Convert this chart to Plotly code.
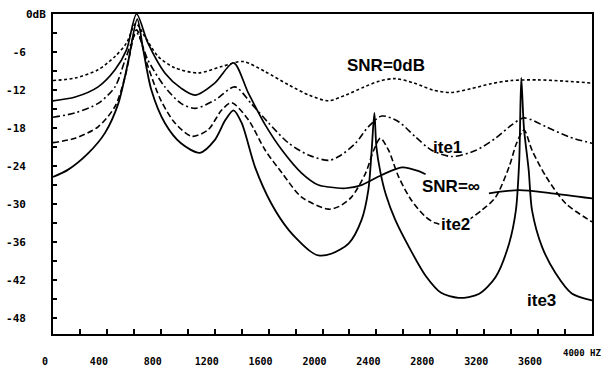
import plotly.graph_objects as go

# ---------------- data (frequency in Hz, level in dB) ----------------
snr0_hz = [0, 165, 335, 460, 545, 615, 680, 780, 905, 1080, 1250, 1410, 1575, 1750,
           1900, 2045, 2170, 2300, 2420, 2540, 2680, 2820, 2950, 3100, 3250, 3400,
           3600, 3800, 4000]
snr0_db = [-10.5, -10.1, -8.8, -6.7, -4.6, -1.5, -3.5, -6.7, -8.5, -9.3, -8.3, -7.5, -9.1,
           -11.2, -12.8, -13.7, -12.8, -11.6, -10.6, -10.2, -10.9, -12.0, -12.4, -11.8,
           -11.0, -10.5, -10.4, -10.6, -10.9]

clean_hz = [0, 165, 335, 460, 545, 620, 705, 830, 950, 1055, 1200, 1340, 1450, 1575,
            1700, 1845, 1970, 2045, 2170, 2290, 2440, 2590, 2715, 2765, 2900, 3235,
            3460, 3700, 4000]
clean_db = [-13.7, -13.1, -11.5, -8.8, -5.7, 0.0, -4.6, -9.3, -11.7, -12.8, -10.9, -7.7,
            -12.5, -17.5, -21.5, -25.1, -27.0, -27.3, -27.5, -27.0, -25.4, -24.2, -24.8,
            -25.3, None, -28.3, -27.8, -28.3, -29.1]

ite1_hz = [0, 165, 335, 460, 535, 620, 705, 830, 950, 1055, 1200, 1350, 1470, 1600,
           1750, 1900, 2045, 2120, 2245, 2340, 2440, 2565, 2690, 2810, 2960, 3140,
           3285, 3405, 3495, 3660, 3830, 4000]
ite1_db = [-16.3, -15.6, -14.1, -11.5, -7.3, -3.0, -7.3, -11.5, -14.1, -14.9, -13.6,
           -11.5, -14.1, -17.2, -20.4, -22.3, -23.1, -22.5, -20.4, -17.8, -16.1, -17.0,
           -19.4, -21.5, -22.5, -21.5, -19.6, -17.5, -16.4, -17.8, -19.4, -20.4]

ite2_hz = [0, 165, 335, 460, 535, 620, 705, 800, 905, 1030, 1150, 1250, 1325, 1450,
           1575, 1700, 1845, 2045, 2120, 2215, 2320, 2380, 2430, 2490, 2565, 2660,
           2765, 2840, 3000, 3180, 3285, 3385, 3440, 3495, 3555, 3660, 3805, 4000]
ite2_db = [-20.3, -19.6, -17.8, -14.6, -9.9, -2.5, -8.3, -13.6, -17.2, -19.3, -18.3,
           -15.2, -14.0, -16.7, -21.5, -25.1, -28.9, -30.8, -30.4, -28.9, -25.1, -21.5,
           -19.6, -21.5, -25.7, -29.4, -32.0, -33.0, -33.4, -31.0, -28.9, -24.1, -20.4,
           -18.3, -21.5, -25.7, -29.9, -32.8]

ite3_hz = [0, 110, 260, 385, 485, 560, 625, 670, 730, 830, 950, 1090, 1200, 1280, 1340,
           1400, 1500, 1620, 1750, 1900, 1970, 2070, 2195, 2290, 2340, 2365, 2385, 2400,
           2430, 2470, 2540, 2660, 2765, 2880, 3010, 3160, 3285, 3385, 3435, 3460, 3475,
           3495, 3530, 3555, 3630, 3730, 3850, 4000]
ite3_db = [-25.7, -24.6, -22.0, -18.8, -14.1, -7.3, -0.8, -5.7, -12.0, -17.2, -20.4,
           -21.9, -19.9, -16.7, -15.2, -17.2, -24.2, -29.9, -34.1, -37.3, -38.1, -37.8,
           -36.2, -32.5, -27.8, -21.5, -15.6, -21.0, -25.0, -28.5, -32.5, -37.5, -41.3,
           -44.0, -44.8, -44.2, -41.5, -36.2, -31.0, -23.1, -10.1, -18.0, -24.6, -31.0,
           -36.8, -40.9, -44.1, -45.2]

x_tick_vals = [0, 200, 400, 600, 800, 1000, 1200, 1400, 1600, 1800, 2000, 2200, 2400,
               2600, 2800, 3000, 3200, 3400, 3600, 3800, 4000]
x_tick_text = ["0", "", "400", "", "800", "", "1200", "", "1600", "", "2000", "", "2400",
               "", "2800", "", "3200", "", "3600", "", ""]
y_tick_vals = [0, -3, -6, -9, -12, -15, -18, -21, -24, -27, -30, -33, -36, -39, -42,
               -45, -48]
y_tick_text = ["0dB", "", "-6", "", "-12", "", "-18", "", "-24", "", "-30", "", "-36",
               "", "-42", "", "-48"]

labels = ["SNR=0dB", "ite1", "SNR=\u221e", "ite2", "ite3"]
label_hz = [2468, 2929, 2952, 2989, 3628]
label_db = [-8.06, -21.0, -27.3, -33.2, -45.2]

# numeric y labels sit further left than the "0dB" label
pad = "\u00a0" * 3
y_tick_shown = [t if (t == "" or "dB" in t) else t + pad for t in y_tick_text]

# ---------------- figure ----------------
fig = go.Figure()
series = [
    (snr0_hz, snr0_db, "3px,2.5px", 1.6),
    (clean_hz, clean_db, "solid", 1.7),
    (ite1_hz, ite1_db, "7px,3px,2px,3px", 1.6),
    (ite2_hz, ite2_db, "6px,3px", 1.6),
    (ite3_hz, ite3_db, "solid", 1.8),
]
for hz, db, dash, w in series:
    fig.add_trace(go.Scatter(x=hz, y=db, mode="lines",
                             line=dict(color="black", width=w, dash=dash,
                                       shape="spline", smoothing=0.8),
                             connectgaps=False, hoverinfo="skip"))

for txt, hx, dv in zip(labels, label_hz, label_db):
    fig.add_annotation(x=hx, y=dv, text=txt, showarrow=False,
                       font=dict(family="Liberation Sans", size=17, color="black",
                                 weight="bold"),
                       bgcolor="rgba(255,255,255,0)" if txt != "ite2" else "white",
                       borderpad=0)

fig.add_annotation(x=4000, y=-50.5, xref="x", yref="y", text="4000 HZ",
                   showarrow=False, xshift=-10, yshift=-19,
                   font=dict(family="DejaVu Sans Mono", size=9, color="black",
                             weight="bold"))

x_font = dict(family="DejaVu Sans Mono", size=10, color="black", weight="bold")
y_font = dict(family="DejaVu Sans Mono", size=11, color="black", weight="bold")
fig.update_xaxes(range=[0, 4000], tickvals=x_tick_vals, ticktext=x_tick_text,
                 ticks="inside", ticklen=5, tickwidth=1.5, tickcolor="black",
                 showline=True, linewidth=2, linecolor="black", mirror=True,
                 showgrid=False, zeroline=False, tickfont=x_font,
                 ticklabelshift=-8, ticklabelstandoff=17, automargin=False)
fig.update_yaxes(range=[-50.5, 0], tickvals=y_tick_vals, ticktext=y_tick_shown,
                 ticks="inside", ticklen=4, tickwidth=1.5, tickcolor="black",
                 showline=True, linewidth=2, linecolor="black", mirror=True,
                 showgrid=False, zeroline=False, tickfont=y_font,
                 ticklabelstandoff=3, automargin=False)
fig.update_layout(width=606, height=370, margin=dict(l=53, r=14, t=14, b=36),
                  plot_bgcolor="white", paper_bgcolor="white", showlegend=False)

fig.write_html("out.html")
